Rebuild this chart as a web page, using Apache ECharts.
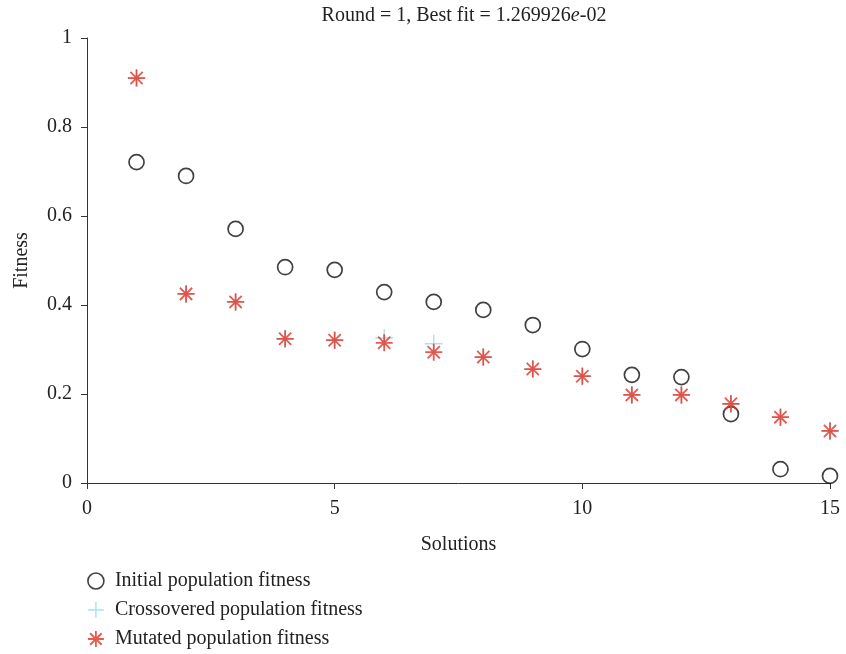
<!DOCTYPE html>
<html><head><meta charset="utf-8">
<script src="https://cdn.jsdelivr.net/npm/echarts@6/dist/echarts.min.js"></script>
<style>html,body{margin:0;padding:0;background:#fff}#c{width:846px;height:654px}</style>
</head><body><div id="c"></div>
<script>
const solutions = [1,2,3,4,5,6,7,8,9,10,11,12,13,14,15];
const initialFitness = [0.721,0.690,0.571,0.485,0.479,0.429,0.407,0.389,0.355,0.301,0.243,0.238,0.155,0.031,0.016];
const crossoverFitness = [0.910,0.425,0.407,0.324,0.321,0.326,0.313,0.283,0.256,0.240,0.198,0.198,0.178,0.148,0.117];
const mutatedFitness = [0.910,0.425,0.407,0.324,0.321,0.315,0.294,0.283,0.256,0.240,0.198,0.198,0.178,0.148,0.117];
const xTicks = [0,5,10,15];
const yTicks = [0,0.2,0.4,0.6,0.8,1];
const seriesNames = ['Initial population fitness','Crossovered population fitness','Mutated population fitness'];

const FONT = 'Liberation Serif';
const FS = 20;
const pair = (ys) => solutions.map((x,i)=>[x, ys[i]]);
const PLUS = 'path://M0,-1L0,1M-1,0L1,0';
const STAR = 'path://M0,-1L0,1M-1,0L1,0M-0.72,-0.72L0.72,0.72M-0.72,0.72L0.72,-0.72';
const RED = '#e22f23', CYAN = '#8fdcec', BLACK = '#111';

const chart = echarts.init(document.getElementById('c'), null, {renderer:'canvas'});
chart.setOption({
  animation:false,
  backgroundColor:'#fff',
  title:{
    text:'Round = 1, Best fit = 1.269926{i|e}-02',
    left:459, textAlign:'center', top:1,
    textStyle:{fontFamily:FONT, fontSize:FS, fontWeight:'normal', color:'#222',
      rich:{i:{fontFamily:FONT, fontSize:FS, fontStyle:'italic', color:'#222'}}}
  },
  grid:{left:87, right:16, top:38, bottom:171, containLabel:false},
  xAxis:{
    type:'value', min:0, max:15, interval:5,
    name:'Solutions', nameLocation:'middle', nameGap:52,
    nameTextStyle:{fontFamily:FONT, fontSize:FS, color:'#222'},
    axisLine:{show:true, onZero:false, lineStyle:{color:'#333', width:1}},
    axisTick:{show:true, length:6, lineStyle:{color:'#333'}},
    axisLabel:{fontFamily:FONT, fontSize:FS, color:'#222', margin:16,
      formatter:(v)=> xTicks.includes(v) ? String(v) : ''},
    splitLine:{show:false}
  },
  yAxis:{
    type:'value', min:0, max:1, interval:0.2,
    name:'Fitness', nameLocation:'middle', nameGap:55, nameRotate:90,
    nameTextStyle:{fontFamily:FONT, fontSize:FS, color:'#222'},
    axisLine:{show:true, onZero:false, lineStyle:{color:'#333', width:1}},
    axisTick:{show:true, length:6, lineStyle:{color:'#333'}},
    axisLabel:{fontFamily:FONT, fontSize:FS, color:'#222', margin:15,
      formatter:(v)=> { const t = yTicks.find(k=>Math.abs(k-v)<1e-9); return t===undefined ? '' : String(+t.toFixed(1)); }},
    splitLine:{show:false}
  },
  legend:{
    orient:'vertical', left:87, top:571, height:90, padding:0,
    itemWidth:16, itemHeight:16, itemGap:9,
    textStyle:{fontFamily:FONT, fontSize:FS, color:'#222', padding:[0,0,0,6]},
    data:[
      {name:seriesNames[0], icon:'circle', itemStyle:{color:'#fff', borderColor:BLACK, borderWidth:1.6}},
      {name:seriesNames[1], icon:PLUS, itemStyle:{color:CYAN, borderColor:CYAN, borderWidth:1.4}},
      {name:seriesNames[2], icon:STAR, itemStyle:{color:RED, borderColor:RED, borderWidth:1.8}}
    ]
  },
  series:[
    {name:seriesNames[0], type:'scatter', data:pair(initialFitness), symbol:'circle', symbolSize:15,
     itemStyle:{color:'rgba(255,255,255,0)', borderColor:BLACK, borderWidth:1.7}},
    {name:seriesNames[1], type:'scatter', data:pair(crossoverFitness), symbol:PLUS, symbolSize:18,
     itemStyle:{color:CYAN, borderColor:CYAN, borderWidth:1.4}},
    {name:seriesNames[2], type:'scatter', data:pair(mutatedFitness), symbol:STAR, symbolSize:17,
     itemStyle:{color:RED, borderColor:RED, borderWidth:1.8}}
  ]
});
</script></body></html>
